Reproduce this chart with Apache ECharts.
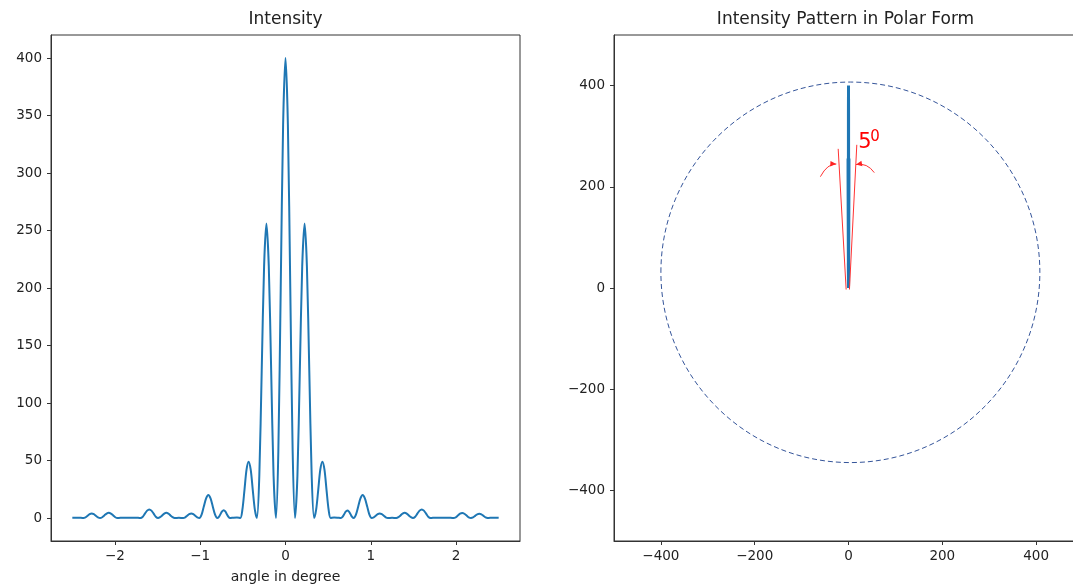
<!DOCTYPE html>
<html><head><meta charset="utf-8">
<script src="https://cdn.jsdelivr.net/npm/echarts@6/dist/echarts.min.js"></script>
<style>html,body{margin:0;padding:0;background:#fff}#c{width:1073px;height:584px}</style>
</head><body><div id="c"></div><script>
// ---- data ----
const angleDeg = [
 -2.5,-2.43,-2.37,
 -2.346,-2.321,-2.297,-2.273,-2.248,-2.224,-2.199,-2.175,
 -2.149,-2.124,-2.098,-2.073,-2.047,-2.021,-1.996,-1.97,
 -1.9,-1.83,-1.76,-1.7,
 -1.674,-1.649,-1.623,-1.598,-1.572,-1.546,-1.521,-1.495,
 -1.471,-1.446,-1.422,-1.398,-1.373,-1.349,-1.324,-1.3,
 -1.25,-1.2,
 -1.176,-1.153,-1.129,-1.105,-1.081,-1.058,-1.034,-1.01,
 -0.984,-0.958,-0.931,-0.905,-0.879,-0.853,-0.826,-0.80,
 -0.781,-0.763,-0.744,-0.725,-0.706,-0.688,-0.669,-0.65,
 -0.61,-0.57,-0.53,
 -0.506,-0.481,-0.457,-0.433,-0.408,-0.384,-0.359,-0.335,
 -0.307,-0.279,-0.251,-0.224,-0.196,-0.168,-0.140,-0.112,
 -0.084,-0.056,-0.028,0,0.028,0.056,0.084,0.112,
 0.140,0.168,0.196,0.224,0.251,0.279,0.307,0.335,
 0.359,0.384,0.408,0.433,0.457,0.481,0.506,0.53,
 0.57,0.61,0.65,
 0.669,0.688,0.706,0.725,0.744,0.763,0.781,0.80,
 0.826,0.853,0.879,0.905,0.931,0.958,0.984,1.01,
 1.034,1.058,1.081,1.105,1.129,1.153,1.176,1.2,
 1.25,1.3,
 1.324,1.349,1.373,1.398,1.422,1.446,1.471,1.495,
 1.521,1.546,1.572,1.598,1.623,1.649,1.674,1.7,
 1.76,1.83,1.9,1.97,
 1.996,2.021,2.047,2.073,2.098,2.124,2.149,2.175,
 2.199,2.224,2.248,2.273,2.297,2.321,2.346,2.37,
 2.43,2.5
];
const intensity = [
 0.2,0.3,0,
 0.6,2,3.4,4,3.4,2,0.6,0,
 0.66,2.25,3.85,4.5,3.85,2.25,0.66,0,
 0.3,0.2,0.3,0,
 1.1,3.75,6.4,7.5,6.4,3.75,1.1,0,
 0.7,2.25,3.8,4.5,3.8,2.25,0.7,0,
 0.2,0,
 0.6,2,3.4,4,3.4,2,0.6,0,
 2.9,10,17,20,17,10,2.9,0,
 1,3.35,5.7,6.7,5.7,3.35,1,0,
 0.3,0.4,0,
 7,24.5,42,49,42,24.5,7,0,
 37,128,219,256,219,128,37,0,
 58,200,342,400,342,200,58,0,
 37,128,219,256,219,128,37,0,
 7,24.5,42,49,42,24.5,7,0,
 0.4,0.3,0,
 1,3.25,5.5,6.5,5.5,3.25,1,0,
 2.9,10,17,20,17,10,2.9,0,
 0.6,2,3.4,4,3.4,2,0.6,0,
 0.2,0,
 0.7,2.25,3.8,4.5,3.8,2.25,0.7,0,
 1.1,3.75,6.4,7.5,6.4,3.75,1.1,0,
 0.3,0.2,0.3,0,
 0.6,2.15,3.7,4.3,3.7,2.15,0.6,0,
 0.5,1.85,3.2,3.7,3.2,1.85,0.5,0,
 0.3,0.2
];
const leftXTicks = [-2,-1,0,1,2];
const leftYTicks = [0,50,100,150,200,250,300,350,400];
const rightXTicks = [-400,-200,0,200,400];
const rightYTicks = [-400,-200,0,200,400];
const titles = ['Intensity','Intensity Pattern in Polar Form'];
const xName = 'angle in degree';
const beamLabel = ['5','0'];

// ---- annotation geometry (data units of the polar panel) ----
const ringGeom = [4, 31, 404, 376];                 // cx, cy, rx, ry
const wedgeGeom = [[-22,275,-5,-3],[17.7,283,2,-3]];
const arcGeom = [[-60,220,-45,246,-26,245],[55,228,40,248,16,244]]; // start, ctrl, end
const labelGeom = [21, 266];

// ---- build ----
const lineData = angleDeg.map((a,i)=>[a,intensity[i]]);
const polarData = angleDeg.map((a,i)=>{const t=a*Math.PI/180;return [intensity[i]*Math.sin(t), intensity[i]*Math.cos(t)];});
const FONT = 'DejaVu Sans';
const minus = v => String(v).replace('-', '\u2212');
const txt = '#222', axc = '#333';

function axis(min, max, ticks, margin, extra){
  return Object.assign({
    type:'value', min, max, scale:false,
    axisLine:{show:true, onZero:false, lineStyle:{color:axc, width:1}},
    axisTick:{show:true, inside:false, length:4, lineStyle:{color:axc, width:1}, customValues:ticks},
    axisLabel:{show:true, margin:margin, color:txt, fontFamily:FONT, fontSize:13.5, customValues:ticks, formatter:minus},
    splitLine:{show:false}
  }, extra||{});
}

const chart = echarts.init(document.getElementById('c'), null, {renderer:'canvas'});
chart.setOption({
  animation:false,
  backgroundColor:'#fff',
  grid:[
    {left:51, top:35, width:469, height:506, show:true, borderColor:axc, borderWidth:1, containLabel:false, outerBoundsMode:'none'},
    {left:614, top:35, width:469, height:506, show:true, borderColor:axc, borderWidth:1, containLabel:false, outerBoundsMode:'none'}
  ],
  xAxis:[
    axis(-2.75, 2.75, leftXTicks, 8, {gridIndex:0, name:xName, nameLocation:'middle', nameGap:29,
      nameTextStyle:{color:txt, fontFamily:FONT, fontSize:14}}),
    axis(-500, 500, rightXTicks, 8, {gridIndex:1})
  ],
  yAxis:[
    axis(-20, 420, leftYTicks, 9, {gridIndex:0}),
    axis(-500, 500, rightYTicks, 9, {gridIndex:1})
  ],
  graphic:[
    {type:'text', x:285.5, y:20, style:{text:titles[0], align:'center', verticalAlign:'middle', font:'17px "DejaVu Sans"', fill:txt}},
    {type:'text', x:845.5, y:20, style:{text:titles[1], align:'center', verticalAlign:'middle', font:'17px "DejaVu Sans"', fill:txt}}
  ],
  series:[
    {type:'line', xAxisIndex:0, yAxisIndex:0, data:lineData, showSymbol:false, smooth:0.3,
     lineStyle:{color:'#1f77b4', width:2}, z:3},
    {type:'line', xAxisIndex:1, yAxisIndex:1, data:polarData, showSymbol:false, smooth:false,
     lineStyle:{color:'#1f77b4', width:3}, z:3},
    {type:'custom', xAxisIndex:1, yAxisIndex:1, data:[[0,0]], clip:false, z:5,
     renderItem:function(params, api){
       const ch = [];
       const c = api.coord([ringGeom[0], ringGeom[1]]);
       const s = api.size([ringGeom[2], ringGeom[3]]);
       ch.push({type:'ellipse', shape:{cx:c[0], cy:c[1], rx:s[0], ry:s[1]},
         style:{fill:'none', stroke:'#35559a', lineWidth:1, lineDash:[5,3]}});
       wedgeGeom.forEach(l=>{
         const p1=api.coord([l[0],l[1]]), p2=api.coord([l[2],l[3]]);
         ch.push({type:'line', shape:{x1:p1[0],y1:p1[1],x2:p2[0],y2:p2[1]}, style:{stroke:'#ff3333', lineWidth:1}});
       });
       arcGeom.forEach(a=>{
         const p0=api.coord([a[0],a[1]]), pc=api.coord([a[2],a[3]]), pe=api.coord([a[4],a[5]]);
         ch.push({type:'bezierCurve', shape:{x1:p0[0],y1:p0[1],cpx1:pc[0],cpy1:pc[1],x2:pe[0],y2:pe[1]},
           style:{fill:'none', stroke:'#ff3333', lineWidth:1}});
         let dx=pe[0]-pc[0], dy=pe[1]-pc[1]; const L=Math.hypot(dx,dy); dx/=L; dy/=L;
         const hl=6, hw=2.8;
         ch.push({type:'polygon', shape:{points:[[pe[0],pe[1]],[pe[0]-hl*dx-hw*dy, pe[1]-hl*dy+hw*dx],[pe[0]-hl*dx+hw*dy, pe[1]-hl*dy-hw*dx]]},
           style:{fill:'#ff2222'}});
       });
       const tp = api.coord(labelGeom);
       ch.push({type:'text', x:tp[0], y:tp[1], style:{text:beamLabel[0], font:'21px "DejaVu Sans"', fill:'#ff0000', align:'left', verticalAlign:'bottom'}});
       ch.push({type:'text', x:tp[0]+12, y:tp[1]-9, style:{text:beamLabel[1], font:'15px "DejaVu Sans"', fill:'#ff0000', align:'left', verticalAlign:'bottom'}});
       return {type:'group', children:ch};
     }}
  ]
});
</script></body></html>
